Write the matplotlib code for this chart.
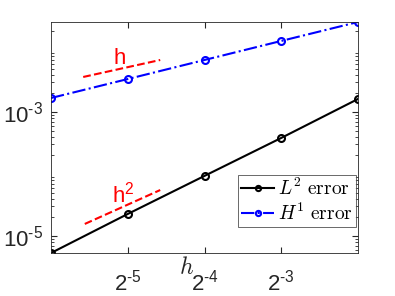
import matplotlib
matplotlib.use("Agg")
import matplotlib.pyplot as plt
from matplotlib.ticker import FixedLocator, LogLocator, NullFormatter

h = [2**-6, 2**-5, 2**-4, 2**-3, 2**-2]
l2_err = [5.3e-6, 2.26e-5, 9.3e-5, 3.81e-4, 1.62e-3]
h1_err = [1.68e-3, 3.4e-3, 6.9e-3, 1.4e-2, 2.83e-2]

# reference slope lines
ref_h_x = [0.0209, 0.0419]
ref_h_y = [3.67e-3, 6.9e-3]
ref_h2_x = [0.0212, 0.0419]
ref_h2_y = [1.56e-5, 5.5e-5]

xticks = [2**-5, 2**-4, 2**-3]
xticklabels = ['$\\mathregular{2^{\u2010' + s + '}}$' for s in ['5', '4', '3']]
yticks = [1e-5, 1e-3]
yticklabels = ['$\\mathregular{10^{\u2010' + s + '}}$' for s in ['5', '3']]

plt.rcParams['font.family'] = ['Liberation Sans', 'DejaVu Sans']
plt.rcParams['mathtext.fontset'] = 'cm'

fig = plt.figure(figsize=(3.95, 2.96), dpi=100)
ax = fig.add_axes([51/395, 1 - 253/296, (358-51)/395, (253-22)/296])

ax.plot(h, l2_err, 'k-o', linewidth=1.5, markersize=5, markerfacecolor='none',
        markeredgewidth=1.5, label=r'$L^2\ \mathrm{error}$')
ax.plot(h, h1_err, 'b-.o', linewidth=1.5, markersize=5, markerfacecolor='none',
        markeredgewidth=1.5, label=r'$H^1\ \mathrm{error}$')
ax.plot(ref_h_x, ref_h_y, 'r--', linewidth=1.5)
ax.plot(ref_h2_x, ref_h2_y, 'r--', linewidth=1.5)
ax.text(0.0291, 5.9e-3, 'h', color='r', fontsize=16, ha='center', va='baseline')
ax.text(0.0299, 3.4e-5, r'$\mathregular{h^2}$', color='r', fontsize=16,
        ha='center', va='baseline')

ax.set_xscale('log', base=2)
ax.set_yscale('log')
ax.set_xlim(2**-6, 2**-2)
ax.set_ylim(5.3e-6, 2.83e-2)
ax.xaxis.set_major_locator(FixedLocator(xticks))
ax.set_xticklabels(xticklabels, fontsize=16)
ax.xaxis.set_minor_locator(FixedLocator([]))
ax.yaxis.set_major_locator(FixedLocator(yticks))
ax.set_yticklabels(yticklabels, fontsize=16)
ax.yaxis.set_minor_locator(LogLocator(base=10, subs=range(2, 10)))
ax.yaxis.set_minor_formatter(NullFormatter())
ax.tick_params(which='both', direction='in', top=True, right=True, colors='0.15')
ax.tick_params(which='major', length=4, labelcolor='0.15')
ax.tick_params(axis='x', which='major', pad=12)
ax.tick_params(axis='y', which='major', pad=6)
ax.tick_params(which='minor', length=2)
for s in ax.spines.values():
    s.set_color('0.15')
    s.set_linewidth(0.6)

ax.text(0.0530, 3.0e-6, r'$h$', fontsize=17, color='0.15', ha='center', va='center')

leg = ax.legend(loc='lower right', bbox_to_anchor=(0.9935, 0.1126), fontsize=14,
                frameon=True, fancybox=False, edgecolor='0.15', handlelength=1.7,
                handletextpad=0.2, borderpad=0.15, labelspacing=0.2, borderaxespad=0,
                markerscale=0.75)
leg.get_frame().set_linewidth(0.6)

fig.savefig('out.png', dpi=100)
